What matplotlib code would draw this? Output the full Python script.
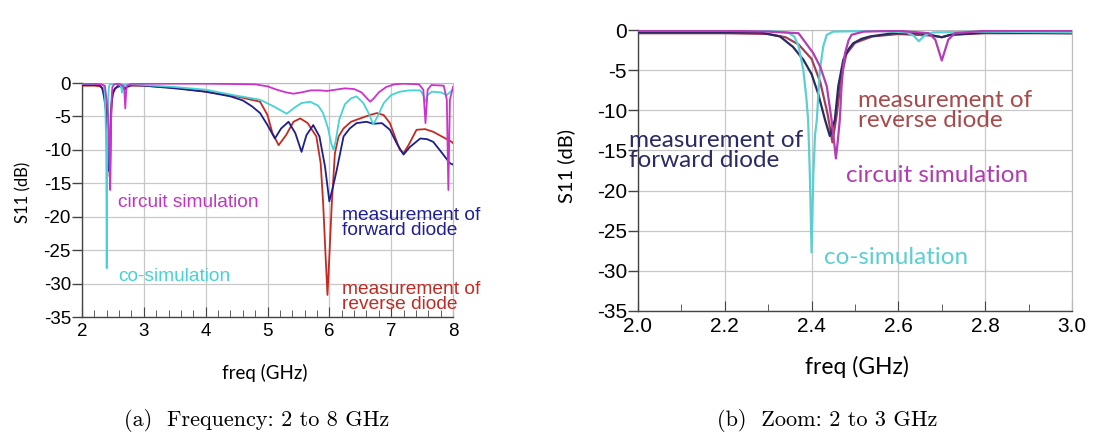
import matplotlib
matplotlib.use("Agg")
import matplotlib.pyplot as plt
from matplotlib.ticker import MultipleLocator

plt.rcParams['axes.unicode_minus'] = False

# ---------------- data (freq in GHz, S11 in dB) ----------------
cosim_f = [2.00, 2.20, 2.30, 2.345, 2.36, 2.37, 2.381, 2.388, 2.392, 2.396, 2.40, 2.404, 2.408,
           2.412, 2.419, 2.427, 2.435, 2.45, 2.55, 2.62, 2.635, 2.647, 2.66, 2.68, 2.80, 3.00,
           3.50, 4.00, 4.50, 4.88, 5.10, 5.31, 5.45, 5.55, 5.69, 5.82, 5.90, 5.98, 6.03, 6.065,
           6.10, 6.16, 6.25, 6.35, 6.44, 6.55, 6.64, 6.71, 6.78, 6.88, 7.00, 7.14, 7.30, 7.47,
           7.52, 7.55, 7.59, 7.66, 7.80, 7.90, 7.96, 8.00]
cosim_s = [-0.1, -0.1, -0.1, -0.3, -0.8, -2.0, -5.0, -8.5, -11.2, -18.0, -27.7, -18.0, -13.0,
           -11.2, -5.0, -2.0, -0.6, -0.2, -0.1, -0.3, -0.7, -1.4, -0.7, -0.3, -0.2, -0.3,
           -0.6, -1.0, -1.9, -2.5, -3.5, -4.6, -3.6, -3.0, -2.8, -3.4, -4.5, -6.8, -9.0, -10.0,
           -8.8, -5.5, -3.2, -2.3, -2.0, -3.0, -4.6, -6.2, -5.0, -3.0, -1.8, -1.3, -1.1, -1.1,
           -1.8, -2.8, -1.8, -1.3, -1.4, -1.8, -1.3, -1.0]

circ_f = [2.00, 2.20, 2.30, 2.37, 2.404, 2.42, 2.435, 2.446, 2.452, 2.456, 2.460, 2.465, 2.469,
          2.473, 2.477, 2.485, 2.492, 2.52, 2.60, 2.67, 2.685, 2.70, 2.715, 2.73, 2.80, 3.00,
          4.00, 4.80, 5.00, 5.15, 5.30, 5.42, 5.55, 5.70, 5.85, 5.96, 6.10, 6.25, 6.40, 6.52,
          6.60, 6.66, 6.72, 6.80, 6.92, 7.05, 7.20, 7.45, 7.52, 7.555, 7.59, 7.65, 7.85, 7.90,
          7.925, 7.95, 8.00]
circ_s = [-0.1, -0.1, -0.2, -0.4, -2.9, -4.6, -7.0, -11.2, -14.0, -16.0, -14.0, -11.2, -7.0,
          -4.5, -2.9, -1.3, -0.6, -0.2, -0.1, -0.4, -1.2, -3.8, -1.2, -0.4, -0.1, -0.1,
          -0.1, -0.2, -0.5, -1.0, -1.4, -1.6, -1.4, -1.1, -1.1, -1.2, -1.0, -0.8, -0.9, -1.4,
          -2.2, -2.8, -2.3, -1.4, -0.6, -0.2, -0.1, -0.2, -1.0, -6.0, -1.0, -0.3, -0.4, -2.5,
          -16.0, -2.5, -0.6]

fwd_f = [2.00, 2.10, 2.20, 2.281, 2.327, 2.357, 2.381, 2.40, 2.415, 2.431, 2.442, 2.4535,
         2.4615, 2.473, 2.485, 2.496, 2.515, 2.535, 2.588, 2.65, 2.68, 2.70, 2.72, 2.80, 3.00,
         3.50, 4.00, 4.40, 4.60, 4.75, 4.88, 5.00, 5.12, 5.22, 5.34, 5.45, 5.55, 5.63, 5.74,
         5.84, 5.93, 6.00, 6.06, 6.12, 6.23, 6.33, 6.44, 6.60, 6.71, 6.85, 6.98, 7.10, 7.20,
         7.30, 7.47, 7.58, 7.68, 7.80, 7.95, 8.00]
fwd_s = [-0.3, -0.3, -0.3, -0.3, -0.8, -2.1, -3.7, -5.5, -7.9, -11.2, -13.2, -11.2,
         -7.0, -3.7, -2.4, -1.65, -1.1, -0.8, -0.4, -0.4, -0.7, -0.9, -0.6, -0.3, -0.4,
         -0.8, -1.3, -2.0, -2.6, -3.5, -4.5, -6.3, -8.3, -6.8, -5.8, -7.5, -10.3, -7.8, -6.3,
         -8.0, -12.5, -17.7, -15.5, -13.0, -8.0, -6.8, -6.0, -5.8, -6.1, -6.0, -7.0, -9.2, -10.7,
         -9.6, -8.3, -8.4, -8.8, -10.2, -12.0, -12.2]

rev_f = [2.00, 2.20, 2.30, 2.34, 2.37, 2.40, 2.42, 2.437, 2.448, 2.458, 2.468, 2.48, 2.50,
         2.54, 2.60, 2.68, 2.70, 2.72, 2.80, 3.00, 3.50, 4.00, 4.50, 4.88, 5.00, 5.08, 5.18,
         5.30, 5.42, 5.53, 5.65, 5.79, 5.86, 5.90, 5.94, 5.97, 6.00, 6.04, 6.09, 6.15, 6.23,
         6.35, 6.50, 6.65, 6.77, 6.88, 6.98, 7.08, 7.14, 7.20, 7.28, 7.41, 7.55, 7.68, 7.82,
         7.98, 8.00]
rev_s = [-0.4, -0.4, -0.5, -0.9, -1.8, -3.6, -6.5, -10.5, -14.0, -10.5, -6.0, -3.0, -1.6,
         -0.8, -0.5, -0.7, -0.9, -0.6, -0.4, -0.4, -0.7, -1.3, -2.0, -2.8, -4.8, -7.5, -9.3,
         -7.8, -5.8, -5.3, -6.0, -8.0, -12.0, -18.0, -26.0, -31.7, -26.0, -18.0, -10.5, -8.0, -6.8,
         -5.8, -5.3, -4.8, -4.5, -4.8, -6.0, -8.5, -10.0, -10.5, -9.3, -7.0, -6.9, -7.3, -8.0,
         -8.8, -9.0]

y_ticks = [0, -5, -10, -15, -20, -25, -30, -35]
xlabel = "freq (GHz)"
ylabel = "S11 (dB)"
caption_a = "(a)  Frequency: 2 to 8 GHz"
caption_b = "(b)  Zoom: 2 to 3 GHz"

# ---------------- figure ----------------
W, H = 1097, 433
fig = plt.figure(figsize=(W / 100, H / 100), dpi=100)

def px_axes(x0, x1, y0, y1):
    return fig.add_axes([x0 / W, 1 - y1 / H, (x1 - x0) / W, (y1 - y0) / H])

axA = px_axes(82, 453, 83, 317)
axB = px_axes(638, 1072, 30, 311)

colA = dict(rev='#c42a22', fwd='#1e1e8c', cos='#45d3d6', cir='#cc33cc')
colB = dict(rev='#a04058', fwd='#2a2a60', cos='#5ccfd2', cir='#b43cb4')

for ax, col, lw in ((axA, colA, 1.3), (axB, colB, 1.6)):
    ax.plot(rev_f, rev_s, color=col['rev'], lw=lw, zorder=3)
    ax.plot(fwd_f, fwd_s, color=col['fwd'], lw=lw, zorder=4)
    ax.plot(cosim_f, cosim_s, color=col['cos'], lw=lw, zorder=5)
    ax.plot(circ_f, circ_s, color=col['cir'], lw=lw, zorder=6)
    ax.set_ylim(-35, 0)
    ax.set_yticks(y_ticks)
    ax.grid(True, which='major', color='#c8c8c8', lw=0.9)
    ax.set_axisbelow(True)
    for s in ('top', 'right'):
        ax.spines[s].set_color('#bbbbbb')
    for s in ('left', 'bottom'):
        ax.spines[s].set_color('#444444')
        ax.spines[s].set_linewidth(1.0)
    ax.tick_params(axis='y', direction='out', length=7, width=1.0, color='#444444', pad=1)
    ax.tick_params(axis='x', which='both', direction='in', color='#444444', pad=4)
    ax.tick_params(axis='x', which='major', length=7)
    ax.tick_params(axis='x', which='minor', length=5)

# panel a
axA.set_xlim(2, 8)
axA.xaxis.set_major_locator(MultipleLocator(1))
axA.xaxis.set_minor_locator(MultipleLocator(0.2))
for lab in axA.get_xticklabels() + axA.get_yticklabels():
    lab.set_family('Liberation Sans')
    lab.set_fontsize(13.5)

# panel b
axB.set_xlim(2, 3)
axB.xaxis.set_major_locator(MultipleLocator(0.2))
axB.xaxis.set_minor_locator(MultipleLocator(0.1))
axB.set_xticklabels([f"{v:.1f}" for v in axB.get_xticks()])
for lab in axB.get_xticklabels() + axB.get_yticklabels():
    lab.set_family('Liberation Sans')
    lab.set_fontsize(15)

# axis labels
fig.text(265 / W, 1 - 373 / H, xlabel, family='Lato', fontsize=13.5, ha='center', va='center')
fig.text(23 / W, 1 - 192 / H, ylabel, family='Lato', fontsize=12, ha='center', va='center',
         rotation=90)
fig.text(857 / W, 1 - 367 / H, xlabel, family='Lato', fontsize=16.5, ha='center', va='center')
fig.text(566 / W, 1 - 166 / H, ylabel, family='Lato', fontsize=14.5, ha='center', va='center',
         rotation=90)

# annotations panel a
ta = dict(family='Liberation Sans', fontsize=13.8, ha='left', va='center', zorder=10,
          clip_on=False)
axA.text(2.58, -17.8, "circuit simulation", color='#c433c4', **ta)
axA.text(2.58, -29.0, "co-simulation", color='#45d3d6', **ta)
axA.text(6.2, -21.0, "measurement of\nforward diode", color='#1e1e99', linespacing=0.85, **ta)
axA.text(6.2, -32.0, "measurement of\nreverse diode", color='#c42a22', linespacing=0.85, **ta)

# annotations panel b
tb = dict(family='Lato', fontsize=17.5, ha='left', va='center', zorder=10, clip_on=False)
axB.text(2.507, -10.05, "measurement of\nreverse diode", color='#a84a4a', linespacing=0.95, **tb)
axB.text(1.980, -15.0, "measurement of\nforward diode", color='#2a2a66', linespacing=0.95, **tb)
axB.text(2.479, -18.1, "circuit simulation", color='#b03cb0', **tb)
axB.text(2.429, -28.3, "co-simulation", color='#5ccfd2', **tb)

# captions
fig.text(257 / W, 1 - 421 / H, caption_a, family='cmr10', fontsize=16, ha='center', va='center')
fig.text(827 / W, 1 - 421 / H, caption_b, family='cmr10', fontsize=16, ha='center', va='center')

fig.savefig("out.png", dpi=100, facecolor='white')
